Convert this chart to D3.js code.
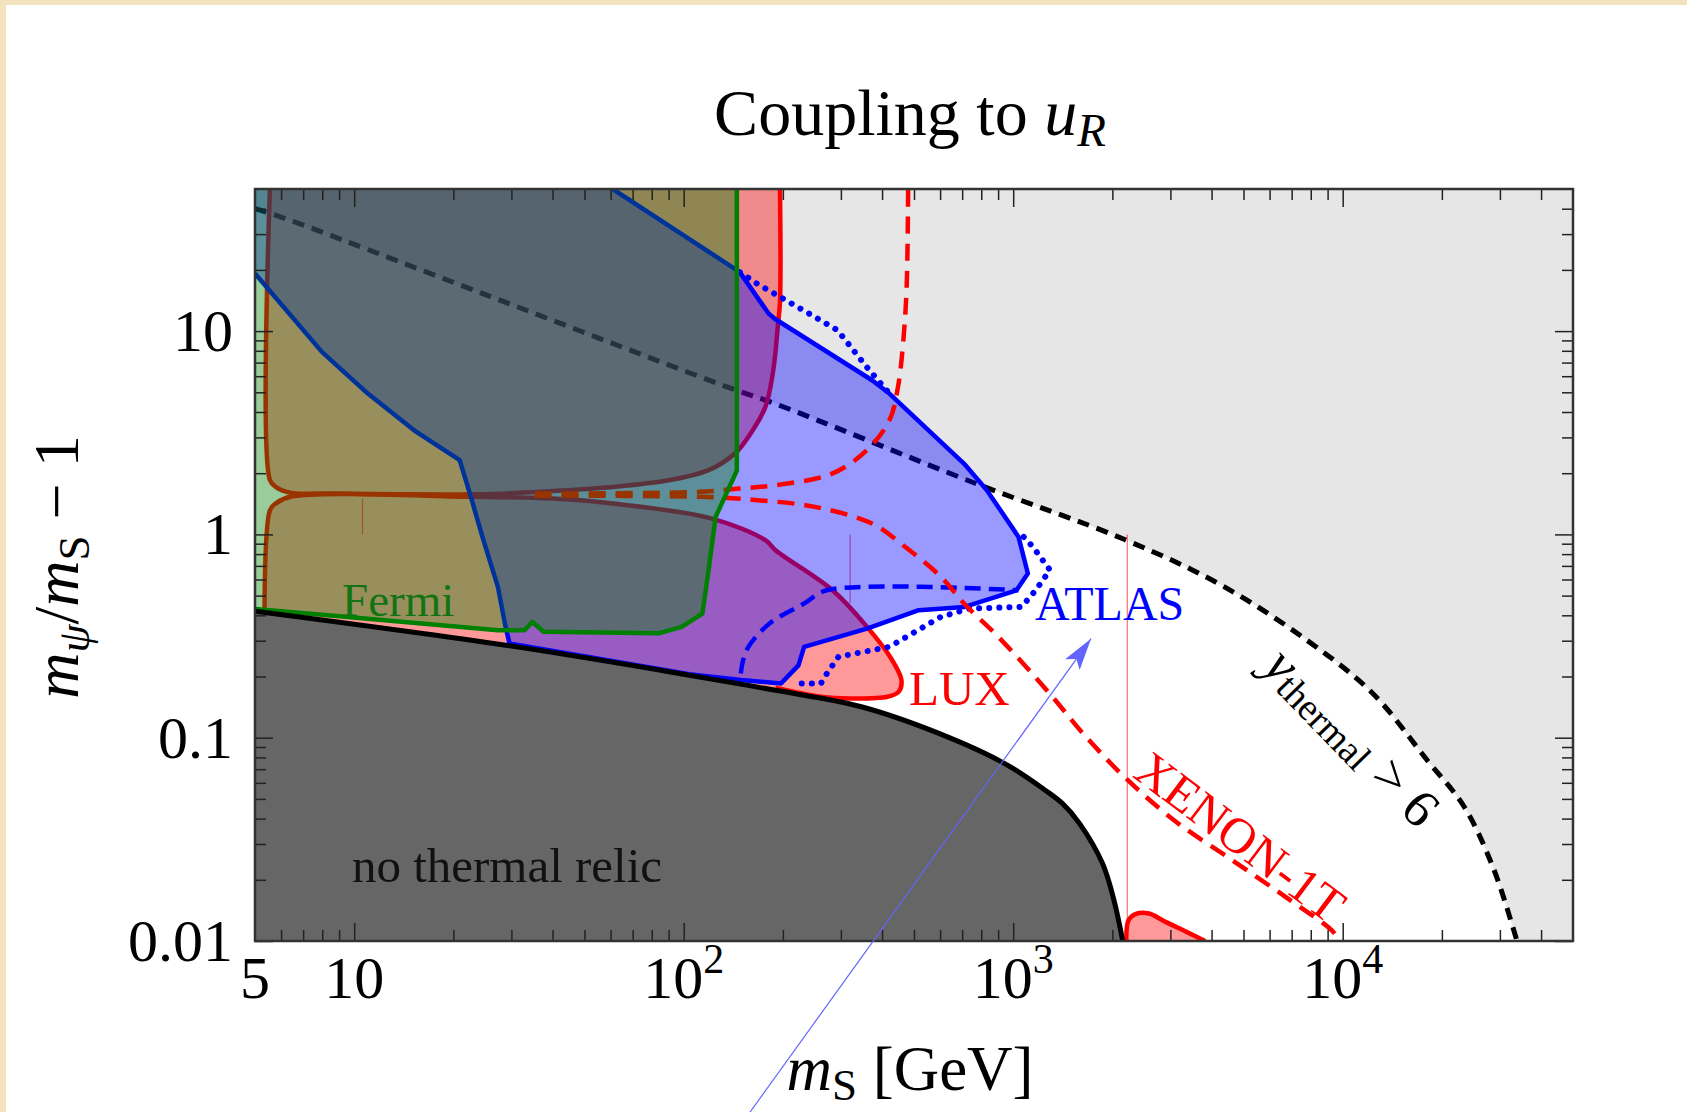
<!DOCTYPE html>
<html>
<head>
<meta charset="utf-8">
<script src="https://cdn.jsdelivr.net/npm/d3@7"></script>
<style>
  body { margin: 0; background: #f2e2bd; }
  svg { display: block; }
  text { font-family: "Liberation Serif", "DejaVu Serif", serif; }
</style>
</head>
<body>
<svg id="chart" width="1687" height="1112"></svg>
<script>
// ---- data (m_S in GeV, m_psi/m_S - 1) ----

// y_thermal > 6 contour (black dashed)
const thermX = [5, 5.94, 24.8, 140, 189, 770, 2170, 4240, 7800, 12300, 18000, 23400, 28600, 33000, 33800];
const thermY = [40, 36.6, 15.2, 5.21, 4.40, 1.78, 0.946, 0.568, 0.301, 0.166, 0.0779, 0.0456, 0.0230, 0.0114, 0.01];

// no thermal relic boundary
const relicX = [5, 28.8, 104, 190, 346, 632, 943, 1250, 1410, 1589, 1866, 2022, 2150];
const relicY = [0.419, 0.285, 0.203, 0.171, 0.142, 0.101, 0.0746, 0.0552, 0.0475, 0.0379, 0.0241, 0.0159, 0.01];

// LUX, upper lobe
const luxUpX = [5.55, 5.55, 5.79, 6.44, 8.03, 23.2, 35.7, 60.9, 90.9, 119, 143, 159.5, 177, 187, 193, 196, 196];
const luxUpY = [50, 1.85, 1.71, 1.60, 1.59, 1.575, 1.618, 1.71, 1.85, 2.07, 2.50, 3.13, 4.24, 6.42, 10.5, 14, 50];

// LUX, lower lobe
const luxLoX = [5.55, 5.55, 5.8, 6.44, 23.2, 40, 60.9, 122, 177, 190, 283, 360, 423, 458, 449, 415, 320, 261, 190];
const luxLoY = [0.01, 1.315, 1.425, 1.535, 1.53, 1.50, 1.419, 1.196, 0.936, 0.836, 0.531, 0.351, 0.250, 0.192, 0.168, 0.159, 0.156, 0.159, 0.176];

// LUX, small island at high mass
const luxIsX = [2205, 2240, 2370, 2585, 2900, 3357, 3824];
const luxIsY = [0.01, 0.01267, 0.01365, 0.01365, 0.01242, 0.01109, 0.01];

// thin contour segments [x, yLow, yHigh]
const thinSegs = [[10.6, 1.0, 1.5], [320, 0.46, 1.0], [2220, 0.01, 1.0]];

// XENON-1T projection (dashed), two branches
const xenUpX = [35.3, 112, 147, 189, 282, 359, 421, 447, 465, 475, 480];
const xenUpY = [1.587, 1.62, 1.68, 1.745, 1.99, 2.59, 3.64, 5.31, 9.35, 16.5, 50];
const xenLoX = [35.3, 112, 167, 250, 373, 456, 604, 709, 902, 1290, 1628, 2173, 3076, 4618, 6924, 9255, 9805];
const xenLoY = [1.55, 1.53, 1.474, 1.366, 1.131, 0.902, 0.618, 0.457, 0.313, 0.165, 0.105, 0.0642, 0.0393, 0.025, 0.0159, 0.0113, 0.01];

// ATLAS observed (solid)
const atlasX = [5, 7.98, 11.0, 15.2, 20.9, 22.6, 24.5, 27.3, 28.8, 29.6, 104, 149, 197.5, 223, 232, 360, 517, 712, 1023, 1108, 1038, 832, 709, 421, 373, 189, 181, 148, 60.9];
const atlasY = [19.2, 7.90, 4.93, 3.25, 2.32, 1.53, 0.972, 0.552, 0.351, 0.291, 0.205, 0.192, 0.185, 0.227, 0.28, 0.344, 0.424, 0.440, 0.531, 0.642, 0.972, 1.65, 2.23, 4.93, 5.73, 11.5, 12.2, 19.5, 50];

// ATLAS dotted
const atlasDotAX = [148, 167, 230, 293, 359, 421];
const atlasDotAY = [19.5, 17.1, 12.7, 10.1, 6.67, 4.93];
const atlasDotBX = [1076, 1147, 1293, 1170, 1060, 738, 603, 421, 295, 272, 261, 214];
const atlasDotBY = [0.972, 0.869, 0.668, 0.531, 0.440, 0.432, 0.393, 0.280, 0.250, 0.207, 0.185, 0.185];

// ATLAS dashed
const atlasDashX = [149, 155, 182, 232, 272, 1038];
const atlasDashY = [0.207, 0.269, 0.364, 0.457, 0.531, 0.531];

// Fermi
const fermiX = [5, 9.37, 27.3, 32.9, 34.7, 37.6, 84, 98.5, 114, 119, 125, 145, 145];
const fermiY = [0.43, 0.393, 0.338, 0.338, 0.371, 0.332, 0.326, 0.351, 0.408, 0.667, 1.22, 2.06, 50];

// axis ticks
const xMajor = [10, 100, 1000, 10000];
const xLabelVals = [5, 10, 100, 1000, 10000];
const xLabelBase = ["5", "10", "10", "10", "10"];
const xLabelExp = ["", "", "2", "3", "4"];
const yMajor = [0.01, 0.1, 1, 10];
const yLabels = ["0.01", "0.1", "1", "10"];

// annotation arrow (data coords): tail, tip
const arrowX = [159, 1723];
const arrowY = [0.00144, 0.307];

// ---- layout ----
const W = 1687, H = 1112;
const svg = d3.select("#chart");

svg.append("rect")
  .attr("x", 6).attr("y", 5)
  .attr("width", W - 6).attr("height", H - 5)
  .attr("fill", "#fff");

const x = d3.scaleLog().domain([5, 5e4]).range([255, 1573]);
const y = d3.scaleLog().domain([0.01, 50]).range([941, 189]);
const [x0, x1] = x.range();
const [y0, y1] = y.range();

const toPts = (xs, ys) => xs.map((v, i) => [x(v), y(ys[i])]);
const smooth = d3.line().curve(d3.curveCatmullRom.alpha(0.5));
const straight = d3.line();

function region(gen, pts, close) {
  return gen(pts) + close.map((p) => "L" + p[0] + "," + p[1]).join("") + "Z";
}

svg.append("clipPath").attr("id", "plot")
  .append("rect")
  .attr("x", x0).attr("y", y1)
  .attr("width", x1 - x0).attr("height", y0 - y1);

const g = svg.append("g").attr("clip-path", "url(#plot)");

// gray: y_thermal > 6
const thermPts = toPts(thermX, thermY);
g.append("path")
  .attr("d", region(smooth, thermPts, [[x(5e4), y(0.01)], [x(5e4), y(50)], [x(5), y(50)]]))
  .attr("fill", "#e6e6e6");
g.append("path")
  .attr("d", smooth(thermPts))
  .attr("fill", "none").attr("stroke", "#000")
  .attr("stroke-width", 5).attr("stroke-dasharray", "12,8");

// LUX (red)
const red = "rgba(255,0,0,0.4)";
const luxUp = toPts(luxUpX, luxUpY);
const luxLo = toPts(luxLoX, luxLoY);
const luxIs = toPts(luxIsX, luxIsY);
g.append("path").attr("d", region(smooth, luxUp, [])).attr("fill", red);
g.append("path").attr("d", region(smooth, luxLo, [[x(190), y(0.01)]])).attr("fill", red);
g.append("path").attr("d", region(smooth, luxIs, [])).attr("fill", red);
[luxUp, luxLo, luxIs].forEach((p) => {
  g.append("path").attr("d", smooth(p))
    .attr("fill", "none").attr("stroke", "#ff0000").attr("stroke-width", 4.5);
});
g.selectAll("line.thin")
  .data(thinSegs)
  .enter()
  .append("line")
  .attr("class", "thin")
  .attr("x1", (d) => x(d[0])).attr("x2", (d) => x(d[0]))
  .attr("y1", (d) => y(d[1])).attr("y2", (d) => y(d[2]))
  .attr("stroke", "#ff0000").attr("stroke-opacity", 0.55).attr("stroke-width", 1.2);

// ATLAS (blue)
const atlas = toPts(atlasX, atlasY);
g.append("path")
  .attr("d", region(straight, atlas, [[x(5), y(50)]]))
  .attr("fill", "rgba(0,0,255,0.4)");
g.append("path").attr("d", straight(atlas))
  .attr("fill", "none").attr("stroke", "#0000ff").attr("stroke-width", 4.5)
  .attr("stroke-linejoin", "round");
[toPts(atlasDotAX, atlasDotAY), toPts(atlasDotBX, atlasDotBY)].forEach((p) => {
  g.append("path").attr("d", straight(p))
    .attr("fill", "none").attr("stroke", "#0000ff").attr("stroke-width", 6)
    .attr("stroke-linecap", "round").attr("stroke-dasharray", "0.1,10");
});
g.append("path").attr("d", smooth(toPts(atlasDashX, atlasDashY)))
  .attr("fill", "none").attr("stroke", "#0000ff").attr("stroke-width", 4.5)
  .attr("stroke-dasharray", "16,8");

// XENON-1T (red dashed)
[toPts(xenUpX, xenUpY), toPts(xenLoX, xenLoY)].forEach((p) => {
  g.append("path").attr("d", smooth(p))
    .attr("fill", "none").attr("stroke", "#ff0000").attr("stroke-width", 4.5)
    .attr("stroke-dasharray", "17,10");
});

// Fermi (green)
const fermi = toPts(fermiX, fermiY);
g.append("path")
  .attr("d", region(straight, fermi, [[x(5), y(50)]]))
  .attr("fill", "rgba(0,128,0,0.4)");
g.append("path").attr("d", straight(fermi))
  .attr("fill", "none").attr("stroke", "#008000").attr("stroke-width", 4.5)
  .attr("stroke-linejoin", "round");

// no thermal relic
const relic = toPts(relicX, relicY);
g.append("path")
  .attr("d", region(smooth, relic, [[x(5), y(0.01)]]))
  .attr("fill", "#666666");
g.append("path").attr("d", smooth(relic))
  .attr("fill", "none").attr("stroke", "#000").attr("stroke-width", 5);

// labels in the plot
const lab = g.append("g");
lab.append("text").attr("x", x(9.19)).attr("y", y(0.398))
  .attr("font-size", 47).attr("fill", "#137313").text("Fermi");
lab.append("text").attr("x", x(1164)).attr("y", y(0.38))
  .attr("font-size", 48).attr("fill", "#0000ff").text("ATLAS");
lab.append("text").attr("x", x(483)).attr("y", y(0.145))
  .attr("font-size", 49).attr("fill", "#ff0000").text("LUX");
lab.append("text").attr("x", x(9.84)).attr("y", y(0.0194))
  .attr("font-size", 49).attr("fill", "#111").text("no thermal relic");
lab.append("text")
  .attr("transform", `translate(${x(4893)},${y(0.0325)}) rotate(37)`)
  .attr("text-anchor", "middle").attr("dominant-baseline", "central")
  .attr("font-size", 50).attr("fill", "#ff0000").text("XENON-1T");
const yt = lab.append("text")
  .attr("transform", `translate(${x(10690)},${y(0.101)}) rotate(46)`)
  .attr("text-anchor", "middle").attr("dominant-baseline", "central")
  .attr("font-size", 54).attr("fill", "#000");
yt.append("tspan").attr("font-style", "italic").text("y");
yt.append("tspan").attr("font-size", 38).attr("dy", 10).text("thermal");
yt.append("tspan").attr("dy", -10).text(" > 6");

// ---- axes ----
const xMinor = x.ticks().filter((v) => !xMajor.includes(v) && v > 5 && v < 5e4);
const yMinor = y.ticks().filter((v) => !yMajor.includes(v) && v > 0.01 && v < 50);

function styleTicks(sel) {
  sel.select(".domain").remove();
  sel.selectAll("line").attr("stroke", "#222").attr("stroke-width", 1.5);
}
[[xMinor, 11], [xMajor, 18]].forEach(([vals, len]) => {
  svg.append("g").attr("transform", `translate(0,${y0})`)
    .call(d3.axisBottom(x).tickValues(vals).tickSize(-len).tickFormat(""))
    .call(styleTicks);
  svg.append("g").attr("transform", `translate(0,${y1})`)
    .call(d3.axisTop(x).tickValues(vals).tickSize(-len).tickFormat(""))
    .call(styleTicks);
});
[[yMinor, 11], [yMajor, 18]].forEach(([vals, len]) => {
  svg.append("g").attr("transform", `translate(${x0},0)`)
    .call(d3.axisLeft(y).tickValues(vals).tickSize(-len).tickFormat(""))
    .call(styleTicks);
  svg.append("g").attr("transform", `translate(${x1},0)`)
    .call(d3.axisRight(y).tickValues(vals).tickSize(-len).tickFormat(""))
    .call(styleTicks);
});

svg.append("rect")
  .attr("x", x0).attr("y", y1)
  .attr("width", x1 - x0).attr("height", y0 - y1)
  .attr("fill", "none").attr("stroke", "#333").attr("stroke-width", 2.5);

// tick labels
xLabelVals.forEach((v, i) => {
  const t = svg.append("text")
    .attr("x", x(v)).attr("y", y0 + 57)
    .attr("text-anchor", "middle").attr("font-size", 60).attr("fill", "#000");
  t.append("tspan").text(xLabelBase[i]);
  if (xLabelExp[i]) {
    t.append("tspan").attr("dy", -25).attr("font-size", 42).text(xLabelExp[i]);
  }
});
yMajor.forEach((v, i) => {
  svg.append("text")
    .attr("x", x0 - 22).attr("y", y(v) + 20)
    .attr("text-anchor", "end").attr("font-size", 60).attr("fill", "#000")
    .text(yLabels[i]);
});

// titles
const title = svg.append("text")
  .attr("x", 910).attr("y", 135)
  .attr("text-anchor", "middle").attr("font-size", 66).attr("fill", "#000");
title.append("tspan").text("Coupling to ");
title.append("tspan").attr("font-style", "italic").text("u");
title.append("tspan").attr("font-style", "italic").attr("font-size", 47).attr("dy", 11).text("R");

const xt = svg.append("text")
  .attr("x", 910).attr("y", 1090)
  .attr("text-anchor", "middle").attr("font-size", 63).attr("fill", "#000");
xt.append("tspan").attr("font-style", "italic").text("m");
xt.append("tspan").attr("font-size", 45).attr("dy", 10).text("S");
xt.append("tspan").attr("dy", -10).text(" [GeV]");

const ytl = svg.append("text")
  .attr("transform", "translate(78,567) rotate(-90)")
  .attr("text-anchor", "middle").attr("font-size", 64).attr("fill", "#000");
ytl.append("tspan").attr("font-style", "italic").text("m");
ytl.append("tspan").attr("font-style", "italic").attr("font-size", 45).attr("dy", 11).text("ψ");
ytl.append("tspan").attr("dy", -11).text("/");
ytl.append("tspan").attr("font-style", "italic").text("m");
ytl.append("tspan").attr("font-size", 45).attr("dy", 11).text("S");
ytl.append("tspan").attr("dy", -11).text(" − 1");

// annotation arrow
svg.append("defs").append("marker")
  .attr("id", "head")
  .attr("viewBox", "0 0 32 18")
  .attr("refX", 32).attr("refY", 9)
  .attr("markerUnits", "userSpaceOnUse")
  .attr("markerWidth", 32).attr("markerHeight", 18)
  .attr("orient", "auto")
  .append("path").attr("d", "M0,0L32,9L0,18L7,9Z").attr("fill", "#6464ff");
svg.append("line")
  .attr("x1", x(arrowX[0])).attr("y1", y(arrowY[0]))
  .attr("x2", x(arrowX[1])).attr("y2", y(arrowY[1]))
  .attr("stroke", "#6464ff").attr("stroke-width", 1.2)
  .attr("marker-end", "url(#head)");
</script>
</body>
</html>
